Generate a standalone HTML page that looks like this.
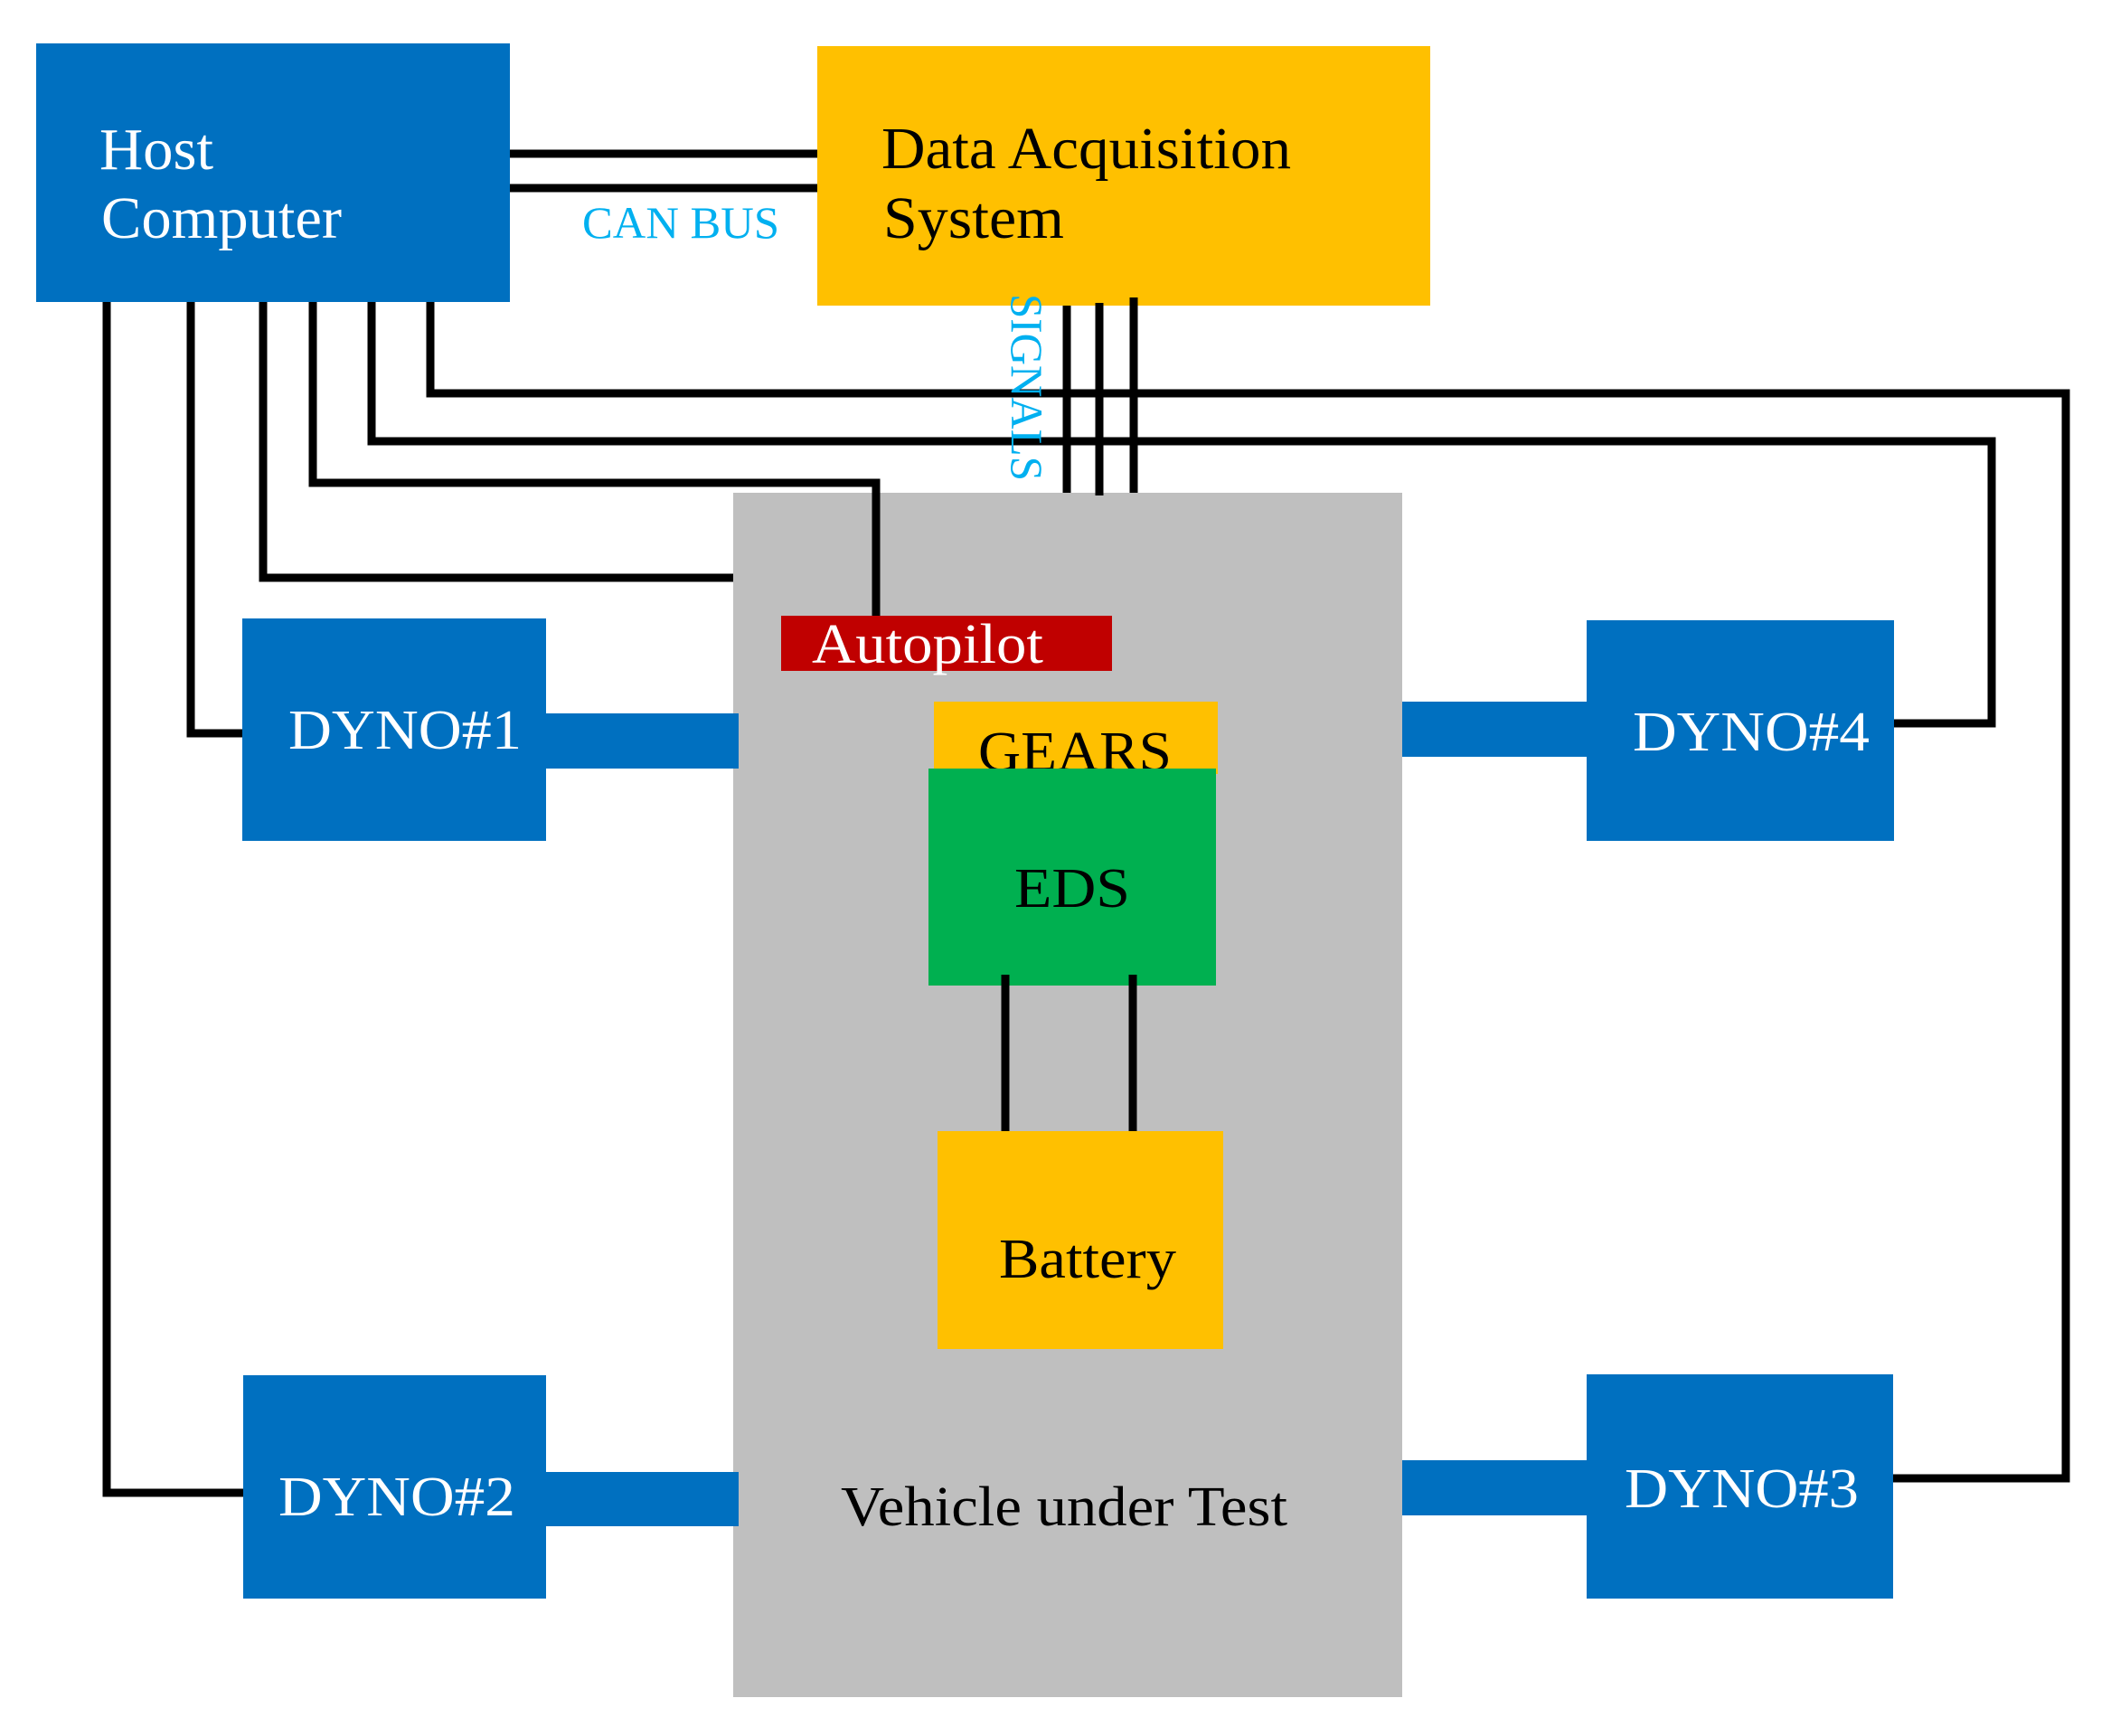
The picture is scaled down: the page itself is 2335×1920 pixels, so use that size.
<!DOCTYPE html>
<html><head><meta charset="utf-8"><style>html,body{margin:0;padding:0;background:#fff}svg{display:block}</style></head>
<body>
<svg width="2335" height="1920" viewBox="0 0 2335 1920" xmlns="http://www.w3.org/2000/svg" font-family="'Liberation Serif', serif">
<rect width="2335" height="1920" fill="#fff"/>
<rect x="40" y="48" width="524" height="286" fill="#0070C0"/>
<rect x="904" y="51" width="678" height="287" fill="#FFC000"/>
<rect x="811" y="545" width="740" height="1332" fill="#BFBFBF"/>
<rect x="604" y="789" width="213" height="61" fill="#0070C0"/>
<rect x="604" y="1628" width="213" height="60" fill="#0070C0"/>
<rect x="1551" y="776" width="210" height="61" fill="#0070C0"/>
<rect x="1551" y="1615" width="210" height="61" fill="#0070C0"/>
<rect x="268" y="684" width="336" height="246" fill="#0070C0"/>
<rect x="269" y="1521" width="335" height="247" fill="#0070C0"/>
<rect x="1755" y="686" width="340" height="244" fill="#0070C0"/>
<rect x="1755" y="1520" width="339" height="248" fill="#0070C0"/>
<rect x="864" y="681" width="366" height="61" fill="#C00000"/>
<rect x="1033" y="776" width="314" height="80" fill="#FFC000"/>
<text x="1082" y="852" font-size="62" fill="#000" textLength="214" lengthAdjust="spacingAndGlyphs">GEARS</text>
<rect x="1027" y="850" width="318" height="240" fill="#00B050"/>
<rect x="1037" y="1251" width="316" height="241" fill="#FFC000"/>
<g stroke="#000" stroke-width="9" fill="none">
<line x1="564" y1="170" x2="904" y2="170"/>
<line x1="564" y1="208" x2="904" y2="208"/>
<polyline points="118,334 118,1651 269,1651"/>
<polyline points="211,334 211,811 268,811"/>
<polyline points="291,334 291,639 811,639"/>
<polyline points="346,334 346,534 969,534 969,681"/>
<polyline points="411,334 411,488 2203,488 2203,800 2095,800"/>
<polyline points="476,334 476,435 2285,435 2285,1635 2094,1635"/>
<line x1="1180" y1="338" x2="1180" y2="545"/>
<line x1="1216" y1="335" x2="1216" y2="548"/>
<line x1="1254" y1="329" x2="1254" y2="545"/>
<line x1="1112" y1="1078" x2="1112" y2="1251"/>
<line x1="1253" y1="1078" x2="1253" y2="1251"/>
</g>
<g font-size="66">
<text x="110" y="187" fill="#fff" textLength="126" lengthAdjust="spacingAndGlyphs">Host</text>
<text x="112" y="263" fill="#fff" textLength="266" lengthAdjust="spacingAndGlyphs">Computer</text>
<text x="975" y="186" fill="#000" textLength="453" lengthAdjust="spacingAndGlyphs">Data Acquisition</text>
<text x="977" y="263" fill="#000" textLength="200" lengthAdjust="spacingAndGlyphs">System</text>
</g>
<text x="644" y="263" font-size="50" fill="#00B0F0" textLength="218" lengthAdjust="spacingAndGlyphs">CAN BUS</text>
<text transform="translate(1119,325) rotate(90)" x="0" y="0" font-size="50" fill="#00B0F0" textLength="207" lengthAdjust="spacingAndGlyphs">SIGNALS</text>
<text x="898" y="733" font-size="62" fill="#fff" textLength="256" lengthAdjust="spacingAndGlyphs">Autopilot</text>
<text x="1122" y="1003" font-size="62" fill="#000" textLength="128" lengthAdjust="spacingAndGlyphs">EDS</text>
<text x="1105" y="1413" font-size="62" fill="#000" textLength="196" lengthAdjust="spacingAndGlyphs">Battery</text>
<text x="930" y="1687" font-size="62" fill="#000" textLength="494" lengthAdjust="spacingAndGlyphs">Vehicle under Test</text>
<g font-size="62" fill="#fff">
<text x="319" y="828" textLength="258" lengthAdjust="spacingAndGlyphs">DYNO#1</text>
<text x="308" y="1676" textLength="262" lengthAdjust="spacingAndGlyphs">DYNO#2</text>
<text x="1806" y="830" textLength="262" lengthAdjust="spacingAndGlyphs">DYNO#4</text>
<text x="1797" y="1667" textLength="259" lengthAdjust="spacingAndGlyphs">DYNO#3</text>
</g>
</svg>
</body></html>
